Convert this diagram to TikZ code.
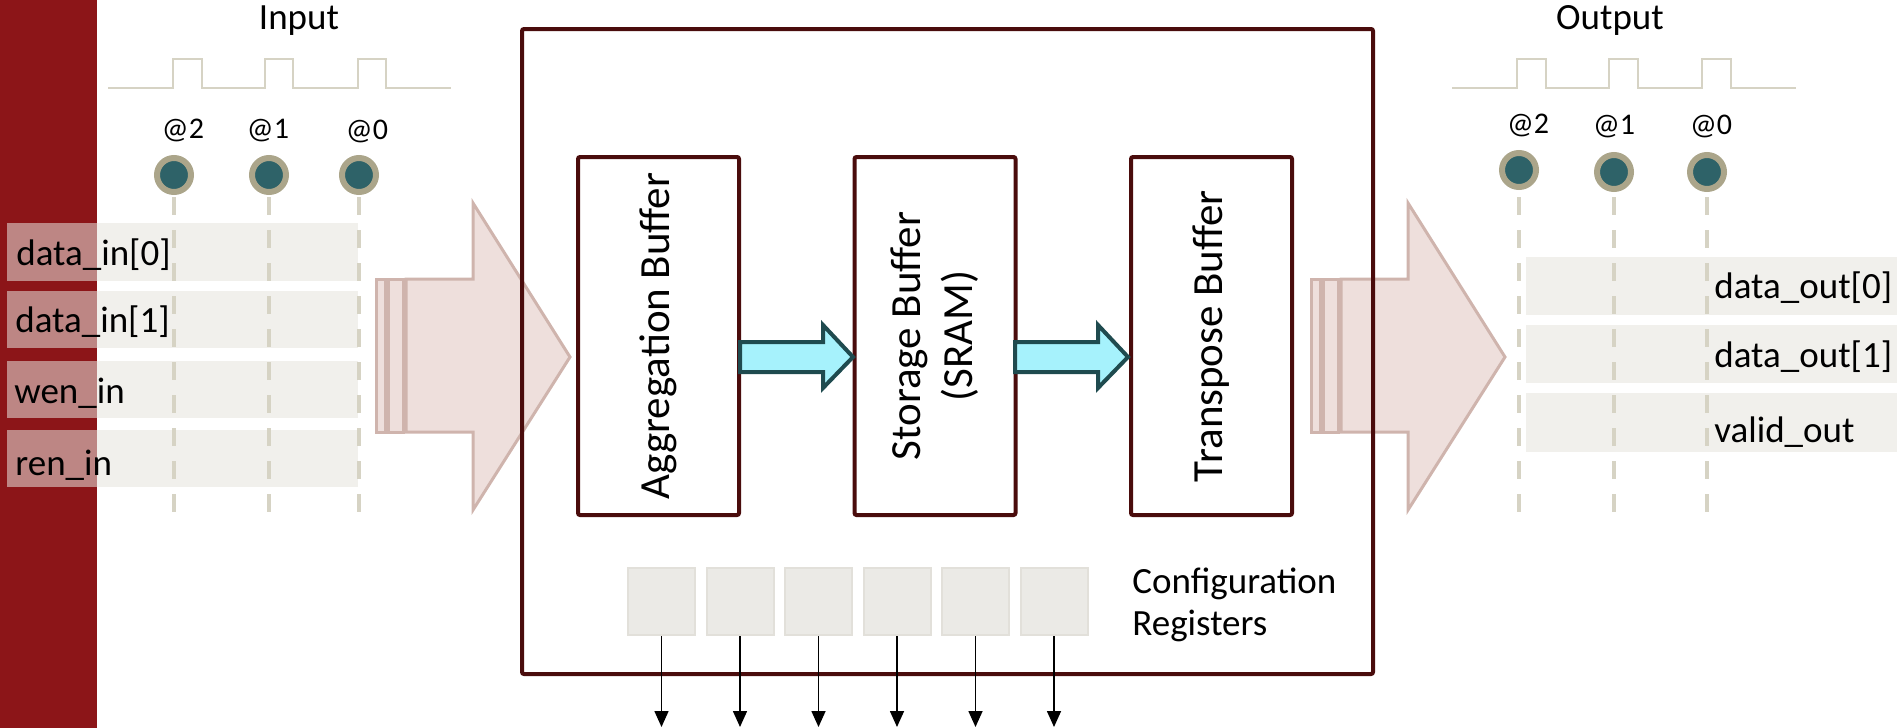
\documentclass[tikz,border=0pt]{standalone}
\usepackage{fontspec}
\setmainfont{Carlito}
\usetikzlibrary{arrows.meta,calc}

\definecolor{bandred}{RGB}{140,21,24}
\definecolor{boxmaroon}{RGB}{74,12,12}
\definecolor{rowgray}{RGB}{230,228,221}
\definecolor{tickgray}{RGB}{214,211,196}
\definecolor{ringgray}{RGB}{171,165,138}
\definecolor{tealdot}{RGB}{46,98,104}
\definecolor{bigfill}{RGB}{238,223,220}
\definecolor{bigedge}{RGB}{207,180,173}
\definecolor{cyanfill}{RGB}{166,242,252}
\definecolor{cyanedge}{RGB}{31,75,79}
\definecolor{regfill}{RGB}{235,234,230}
\definecolor{regedge}{RGB}{226,224,218}

\begin{document}
\begin{tikzpicture}[x=0.5pt,y=-0.5pt,
  sig/.style={font=\fontsize{18.5}{22}\selectfont, inner sep=0pt, anchor=base west},
  title/.style={font=\fontsize{18.5}{22}\selectfont, inner sep=0pt, anchor=base},
  atlbl/.style={font=\fontsize{15}{18}\selectfont, inner sep=0pt, anchor=base},
  tappoint/.style={circle, fill=tealdot, draw=ringgray, line width=3pt, minimum size=17pt, inner sep=0pt},
  clockwave/.style={draw=tickgray, line width=1pt},
  tapline/.style={draw=tickgray, line width=2pt, dash pattern=on 9pt off 7.5pt},
  sigrow/.style={fill=rowgray, fill opacity=0.55},
  bigarrow/.style={fill=bigfill, draw=bigedge, line width=1.5pt},
  bufbox/.style={draw=boxmaroon, line width=2pt, rounded corners=1pt, minimum width=80.5pt, minimum height=179pt, inner sep=0pt},
  buftext/.style={font=\fontsize{21.5}{26}\selectfont, rotate=90, align=center, inner sep=0pt},
  flowarrow/.style={fill=cyanfill, draw=cyanedge, line width=2pt, line join=miter},
  cfgreg/.style={fill=regfill, draw=regedge, line width=1pt, minimum size=33.5pt, inner sep=0pt},
  cfgout/.style={-{Triangle[width=7pt,length=8pt]}, line width=0.8pt, black}
]
\useasboundingbox (0,0) rectangle (1897,728);

% left band
\fill[bandred] (0,0) rectangle (97,728);

% ---------------- input side ----------------
\node[title] (intitle) at (299,30) {Input};
\draw[clockwave] (108,88) -- (173,88) -- (173,59) -- (202,59) -- (202,88)
  -- (265,88) -- (265,59) -- (293,59) -- (293,88)
  -- (358,88) -- (358,59) -- (386,59) -- (386,88) -- (451,88);

\fill[sigrow] (7,223) rectangle (358,281);
\fill[sigrow] (7,291) rectangle (358,348);
\fill[sigrow] (7,361) rectangle (358,418);
\fill[sigrow] (7,430) rectangle (358,487);

\coordinate (gbot) at (0,514);
\coordinate (gtop) at (0,197);
\node[tappoint] (in2) at (174,175) {};
\node[tappoint] (in1) at (269,175) {};
\node[tappoint] (in0) at (359,175) {};
\node[atlbl] at (183,138) {@2};
\node[atlbl] at (268,138) {@1};
\node[atlbl] at (367,139) {@0};
\foreach \p in {in2,in1,in0}
  \draw[tapline] (\p.south |- gtop) -- (\p.south |- gbot);

\node[sig] at (16,265) {data\_in[0]};
\node[sig] at (15,332) {data\_in[1]};
\node[sig] at (14,403) {wen\_in};
\node[sig] at (15,475) {ren\_in};

% big input arrow
\filldraw[bigarrow] (376,279) rectangle (385,432);
\filldraw[bigarrow] (388,279) rectangle (403,432);
\filldraw[bigarrow] (406,279) -- (473,279) -- (473,203) -- (570,357)
  -- (473,510) -- (473,432) -- (406,432) -- cycle;

% ---------------- output side ----------------
\node[title] (outtitle) at (1610,29) {Output};
\draw[clockwave] (1452,88) -- (1517,88) -- (1517,59) -- (1546,59) -- (1546,88)
  -- (1609,88) -- (1609,59) -- (1638,59) -- (1638,88)
  -- (1702,88) -- (1702,59) -- (1731,59) -- (1731,88) -- (1796,88);

\fill[sigrow] (1526,257) rectangle (1897,315);
\fill[sigrow] (1526,325) rectangle (1897,383);
\fill[sigrow] (1526,393) rectangle (1897,452);

\node[tappoint] (out2) at (1519,170) {};
\node[tappoint] (out1) at (1614,172) {};
\node[tappoint] (out0) at (1707,172) {};
\node[atlbl] at (1528,133) {@2};
\node[atlbl] at (1614,134) {@1};
\node[atlbl] at (1711,134) {@0};
\foreach \p in {out2,out1,out0}
  \draw[tapline] (\p.south |- gtop) -- (\p.south |- gbot);

\node[sig] at (1714,298) {data\_out[0]};
\node[sig] at (1714,367) {data\_out[1]};
\node[sig] at (1714,442) {valid\_out};

% big output arrow
\filldraw[bigarrow] (1311,279) rectangle (1320,432);
\filldraw[bigarrow] (1323,279) rectangle (1338,432);
\filldraw[bigarrow] (1341,279) -- (1408,279) -- (1408,203) -- (1505,357)
  -- (1408,510) -- (1408,432) -- (1341,432) -- cycle;

% ---------------- memory core ----------------
\node[draw=boxmaroon, line width=2pt, rounded corners=1pt, inner sep=0pt,
      minimum width=425.5pt, minimum height=322.5pt] (core) at (947.5,351.5) {};

\node[bufbox] (agg) at (658.5,336) {};
\node[bufbox] (sto) at (935,336) {};
\node[bufbox] (tra) at (1211.5,336) {};
\node[buftext] at (agg) {Aggregation Buffer};
\node[buftext] at (sto) {Storage Buffer\\(SRAM)};
\node[buftext] at (tra) {Transpose Buffer};

% data movement between buffers
\filldraw[flowarrow] (740,342) -- (823,342) -- (823,325) -- (853,357)
  -- (823,388) -- (823,372) -- (740,372) -- cycle;
\filldraw[flowarrow] (1015,342) -- (1098,342) -- (1098,325) -- (1128,357)
  -- (1098,388) -- (1098,372) -- (1015,372) -- cycle;

% configuration registers
\coordinate (cbot) at (0,727);
\foreach \i in {1,...,6}{
  \node[cfgreg] (cr\i) at ({661.5+78.5*(\i-1)},601.5) {};
  \draw[cfgout] (cr\i.south) -- (cr\i.south |- cbot);
}
\node[sig] at (1132,593) {Configuration};
\node[sig] at (1132,635) {Registers};
\end{tikzpicture}
\end{document}
